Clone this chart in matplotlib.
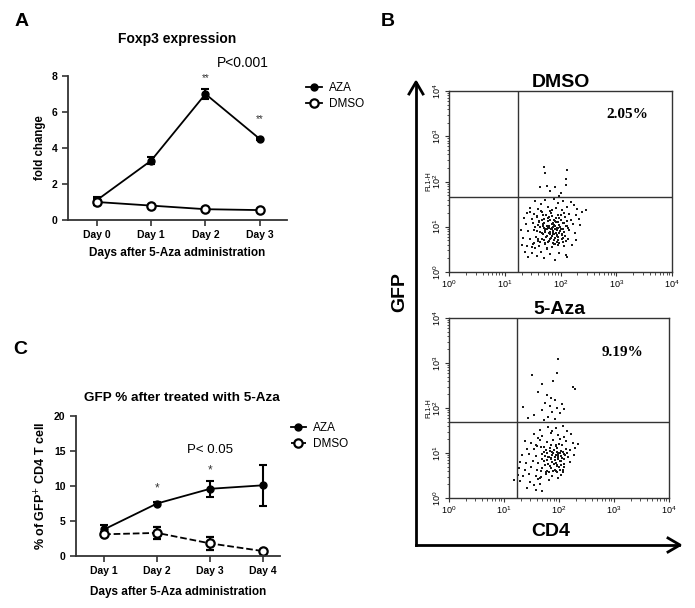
import numpy as np
import matplotlib.pyplot as plt
from matplotlib.lines import Line2D
from matplotlib.ticker import LogLocator, NullFormatter

plt.rcParams['font.family'] = ['Liberation Sans', 'DejaVu Sans']

# ---- donnees panel A (Foxp3, fold change)
jours_a = ['Day 0', 'Day 1', 'Day 2', 'Day 3']
aza_a = [1.1, 3.3, 7.0, 4.5]
aza_a_err = [0.2, 0.2, 0.3, 0.05]
dmso_a = [1.0, 0.8, 0.6, 0.55]
dmso_a_err = [0.15, 0.05, 0.05, 0.05]
etoiles_a = ['', '', '**', '**']
etoiles_a_y = [0, 0, 7.9, 5.6]

# ---- donnees panel C (% GFP+)
jours_c = ['Day 1', 'Day 2', 'Day 3', 'Day 4']
aza_c = [3.8, 7.5, 9.6, 10.1]
aza_c_err = [0.6, 0.2, 1.1, 2.9]
dmso_c = [3.1, 3.3, 1.8, 0.7]
dmso_c_err = [0.3, 0.9, 0.9, 0.2]
etoiles_c = ['', '*', '*', '']
etoiles_c_y = [0, 9.6, 12.2, 0]

# ---- panel B : evenements cytometrie (log10 CD4, log10 GFP), lus a l'oeil
dmso_cd4 = [1.70, 1.72, 2.12, 2.10, 2.09, 1.63, 1.75, 1.90, 1.81, 2.00, 1.97,
            1.55, 1.72, 1.88, 2.05, 2.18, 1.95, 1.65, 2.25,
            1.45, 1.60, 1.78, 1.92, 2.02, 2.12, 2.30, 2.45, 1.85,
            1.40, 1.52, 1.66, 1.74, 1.83, 1.95, 2.06, 2.15, 2.28, 2.38,
            1.35, 1.48, 1.58, 1.70, 1.80, 1.88, 1.98, 2.08, 2.18, 2.33, 1.62, 1.92,
            1.38, 1.50, 1.60, 1.68, 1.76, 1.84, 1.90, 1.97, 2.04, 2.12, 2.22, 2.35, 1.55, 1.80, 2.00,
            1.30, 1.42, 1.52, 1.63, 1.72, 1.79, 1.86, 1.92, 1.99, 2.07, 2.16, 2.26, 1.68, 1.88, 2.03, 1.84,
            1.33, 1.45, 1.56, 1.66, 1.74, 1.82, 1.90, 1.96, 2.05, 2.14, 2.28, 1.60, 1.78, 1.93,
            1.31, 1.40, 1.50, 1.62, 1.72, 1.84, 1.95, 2.06, 2.20, 1.55, 1.76,
            1.36, 1.48, 1.65, 1.82, 1.98, 2.10, 1.42, 1.70, 1.90, 2.12, 1.58,
            1.83, 1.87, 1.81, 1.90, 1.86, 1.94, 1.78, 1.88, 1.95, 1.75, 1.85, 1.93, 1.70,
            1.62, 1.67, 1.71, 1.77, 1.82, 1.86, 1.91, 1.96, 2.01, 2.06, 2.11,
            1.64, 1.69, 1.74, 1.79, 1.84, 1.89, 1.94, 1.99, 2.04, 2.09, 2.14,
            1.58, 1.66, 1.73, 1.81, 1.87, 1.93, 1.98, 2.03, 2.08,
            1.60, 1.70, 1.76, 1.83, 1.89, 1.95, 2.02, 2.10,
            1.52, 1.63, 1.72, 1.80, 1.86, 1.91, 1.97, 2.05,
            1.57, 1.68, 1.78, 1.85, 1.92, 2.00,
            1.48, 1.75, 1.88, 1.45, 1.65, 1.82]
dmso_gfp = [2.33, 2.18, 2.26, 2.05, 1.93, 1.88, 1.90, 1.87, 1.78, 1.74, 1.69,
            1.58, 1.60, 1.62, 1.57, 1.55, 1.52, 1.50, 1.48,
            1.42, 1.40, 1.43, 1.41, 1.38, 1.44, 1.40, 1.38, 1.36,
            1.30, 1.28, 1.32, 1.27, 1.30, 1.26, 1.31, 1.28, 1.25, 1.32,
            1.20, 1.18, 1.22, 1.17, 1.21, 1.16, 1.19, 1.22, 1.15, 1.18, 1.13, 1.11,
            1.05, 1.08, 1.03, 1.07, 1.02, 1.06, 1.01, 1.04, 1.08, 1.02, 1.06, 1.03, 0.99, 0.97, 0.96,
            0.92, 0.90, 0.93, 0.88, 0.92, 0.87, 0.91, 0.86, 0.90, 0.88, 0.92, 0.87, 0.84, 0.83, 0.82, 0.94,
            0.76, 0.74, 0.78, 0.73, 0.77, 0.72, 0.76, 0.71, 0.75, 0.73, 0.70, 0.68, 0.66, 0.67,
            0.60, 0.57, 0.62, 0.58, 0.61, 0.56, 0.60, 0.57, 0.59, 0.52, 0.50,
            0.45, 0.42, 0.44, 0.40, 0.43, 0.38, 0.33, 0.30, 0.27, 0.33, 0.36,
            0.95, 0.99, 0.89, 0.95, 0.85, 0.93, 1.00, 1.04, 0.98, 0.94, 0.80, 0.80, 0.98,
            1.10, 1.14, 1.09, 1.12, 1.15, 1.08, 1.13, 1.10, 1.14, 1.09, 1.12,
            0.99, 1.02, 0.96, 1.01, 0.98, 1.03, 0.97, 1.00, 0.95, 1.01, 0.97,
            0.90, 0.86, 0.89, 0.84, 0.88, 0.82, 0.87, 0.85, 0.80,
            0.74, 0.71, 0.79, 0.75, 0.70, 0.78, 0.72, 0.69,
            0.64, 0.66, 0.63, 0.68, 0.65, 0.62, 0.64, 0.66,
            1.24, 1.25, 1.19, 1.23, 1.20, 1.26,
            0.55, 0.53, 0.62, 1.33, 1.35, 1.34]

aza_cd4 = [1.99, 1.97, 1.51, 1.90, 1.70, 2.26, 2.30, 1.61, 1.79, 1.86, 1.92, 1.75, 1.35,
           1.83, 1.96, 2.05, 1.70, 1.88, 2.02, 1.55, 1.80, 1.93, 1.73, 2.10, 1.44,
           1.80, 1.95, 2.08, 1.65, 2.15, 1.88,
           1.55, 1.70, 1.85, 1.98, 2.10, 2.22, 1.62, 2.02,
           1.38, 1.50, 1.66, 1.78, 1.90, 2.00, 2.12, 2.25, 2.35, 1.58, 1.95,
           1.42, 1.55, 1.68, 1.76, 1.84, 1.91, 1.97, 2.04, 2.12, 2.20, 2.30, 1.88, 2.00,
           1.33, 1.46, 1.58, 1.70, 1.80, 1.87, 1.93, 1.98, 2.03, 2.09, 2.17, 2.28, 1.95, 1.99, 1.90, 2.06, 1.85,
           1.30, 1.40, 1.52, 1.62, 1.72, 1.80, 1.88, 1.95, 2.02, 2.10, 2.20, 1.92, 1.97,
           1.28, 1.38, 1.50, 1.60, 1.70, 1.78, 1.85, 1.93, 2.00, 2.08, 1.82, 1.96,
           1.25, 1.35, 1.45, 1.58, 1.68, 1.77, 1.88, 2.03, 1.62,
           1.30, 1.48, 1.55, 1.65, 1.42, 1.58, 1.70, 1.18,
           1.72, 1.78, 1.84, 1.90, 1.96, 2.02, 2.08, 2.14,
           1.75, 1.81, 1.87, 1.93, 1.99, 2.05, 2.11, 2.17,
           1.70, 1.79, 1.86, 1.92, 1.98, 2.04, 2.10,
           1.74, 1.83, 1.91, 1.97, 2.03, 2.09,
           1.68, 1.77, 1.89, 1.95, 2.01, 2.07,
           1.60, 1.73, 1.85, 1.94, 2.06,
           1.65, 1.82, 1.99]
aza_gfp = [3.10, 2.77, 2.73, 2.60, 2.53, 2.47, 2.42, 2.35, 2.29, 2.22, 2.18, 2.12, 2.03,
           2.05, 2.00, 2.08, 1.95, 1.92, 1.88, 1.85, 1.80, 1.76, 1.74, 1.98, 1.78,
           1.58, 1.55, 1.60, 1.52, 1.50, 1.48,
           1.42, 1.38, 1.44, 1.40, 1.36, 1.42, 1.33, 1.32,
           1.27, 1.22, 1.28, 1.24, 1.29, 1.21, 1.26, 1.23, 1.20, 1.18, 1.17,
           1.10, 1.08, 1.13, 1.06, 1.11, 1.07, 1.12, 1.05, 1.10, 1.07, 1.12, 1.02, 1.01,
           0.95, 0.98, 0.93, 0.97, 0.92, 0.96, 0.91, 0.97, 0.93, 0.98, 0.92, 0.96, 0.95, 0.89, 0.99, 0.88, 0.88,
           0.80, 0.77, 0.83, 0.78, 0.82, 0.76, 0.81, 0.77, 0.82, 0.76, 0.80, 0.84, 0.73,
           0.66, 0.62, 0.68, 0.63, 0.67, 0.61, 0.66, 0.62, 0.68, 0.63, 0.58, 0.57,
           0.52, 0.48, 0.54, 0.50, 0.46, 0.53, 0.49, 0.52, 0.42,
           0.38, 0.35, 0.28, 0.32, 0.22, 0.18, 0.15, 0.40,
           1.03, 1.00, 1.04, 1.01, 1.03, 0.99, 1.02, 1.00,
           0.94, 0.91, 0.95, 0.92, 0.94, 0.90, 0.95, 0.91,
           0.86, 0.84, 0.87, 0.85, 0.86, 0.83, 0.87,
           0.74, 0.71, 0.75, 0.72, 0.74, 0.70,
           0.60, 0.57, 0.61, 0.59, 0.62, 0.58,
           1.16, 1.14, 1.17, 1.15, 1.18,
           0.45, 0.41, 0.44]

fig = plt.figure(figsize=(6.95, 6.08), dpi=100)


# style type Prism pour les courbes
def style_prism(ax):
    for s in ['top', 'right']:
        ax.spines[s].set_visible(False)
    for s in ['left', 'bottom']:
        ax.spines[s].set_linewidth(1.3)
        ax.spines[s].set_color('#333333')
    ax.tick_params(width=1.2, length=4, labelsize=7.5, color='#333333')
    for lab in ax.get_xticklabels() + ax.get_yticklabels():
        lab.set_fontweight('bold')


def courbe(ax, jours, aza, aza_err, dmso, dmso_err, style_dmso):
    x = np.arange(len(jours))
    ax.errorbar(x, aza, yerr=aza_err, fmt='o-', color='black', ms=5,
                lw=1.3, capsize=3, elinewidth=1.5, capthick=1.5)
    ax.errorbar(x, dmso, yerr=dmso_err, fmt='o', ls=style_dmso, color='black',
                mfc='white', mec='black', mew=1.6, ms=6, lw=1.3,
                capsize=3, elinewidth=1.5, capthick=1.5)
    ax.set_xticks(x)
    ax.set_xticklabels(jours)
    # legende sans les barres d'erreur
    h1 = Line2D([], [], color='black', marker='o', ms=5, lw=1.3)
    h2 = Line2D([], [], color='black', marker='o', ms=6, mfc='white', mew=1.6,
                lw=1.3, ls=style_dmso)
    return [h1, h2]


# ---------------- panel A
axA = fig.add_axes([68 / 695, 1 - 220 / 608, 219 / 695, 144 / 608])
hA = courbe(axA, jours_a, aza_a, aza_a_err, dmso_a, dmso_a_err, '-')
axA.set_xlim(-0.53, 3.5)
axA.set_ylim(0, 8)
axA.set_yticks([0, 2, 4, 6, 8])
style_prism(axA)
axA.set_ylabel('fold change', fontsize=8.3, fontweight='bold', labelpad=4)
axA.set_xlabel('Days after 5-Aza administration', fontsize=8.5, fontweight='bold', labelpad=5)
axA.set_title('Foxp3 expression', fontsize=10, fontweight='bold', pad=24)
for i, e in enumerate(etoiles_a):
    if e:
        axA.text(i, etoiles_a_y[i], e, ha='center', va='center', fontsize=7, color='#333333')
fig.text(243 / 695, 1 - 63 / 608, 'P<0.001', ha='center', va='center', fontsize=10)
axA.legend(hA, ['AZA', 'DMSO'], loc='upper left', bbox_to_anchor=(1.04, 1.03), frameon=False,
           fontsize=8.5, handlelength=1.3, handletextpad=0.6, labelspacing=0.3)
fig.text(15 / 695, 1 - 22 / 608, 'A', fontsize=14, fontweight='bold', ha='left', va='center')

# ---------------- panel C
axC = fig.add_axes([76 / 695, 1 - 556 / 608, 204 / 695, 140 / 608])
hC = courbe(axC, jours_c, aza_c, aza_c_err, dmso_c, dmso_c_err, '--')
axC.set_xlim(-0.53, 3.32)
axC.set_ylim(0, 20)
axC.set_yticks([0, 5, 10, 15, 20])
style_prism(axC)
axC.set_ylabel('% of GFP$^{+}$ CD4 T cell', fontsize=9, fontweight='bold', labelpad=4)
axC.set_xlabel('Days after 5-Aza administration', fontsize=8.5, fontweight='bold', labelpad=7)
axC.set_title('GFP % after treated with 5-Aza', fontsize=9.7, fontweight='bold', pad=11, x=0.52)
for i, e in enumerate(etoiles_c):
    if e:
        axC.text(i, etoiles_c_y[i], e, ha='center', va='center', fontsize=8.5, color='#333333')
fig.text(210 / 695, 1 - 450 / 608, 'P< 0.05', ha='center', va='center', fontsize=9.5)
axC.legend(hC, ['AZA', 'DMSO'], loc='upper left', bbox_to_anchor=(1.0, 1.03), frameon=False,
           fontsize=8.5, handlelength=1.3, handletextpad=0.6, labelspacing=0.3)
fig.text(13 / 695, 1 - 349 / 608, 'C', fontsize=14, fontweight='bold', ha='left', va='center')


# ---------------- panel B : cytometrie
def facs(ax, cd4, gfp, titre, gate_y, pct, pos_pct):
    ax.scatter(10 ** np.array(cd4), 10 ** np.array(gfp), s=3.2, color='#1a1a1a',
               marker='s', linewidths=0)
    ax.set_xscale('log')
    ax.set_yscale('log')
    ax.set_xlim(1, 1e4)
    ax.set_ylim(1, 1e4)
    ax.axvline(10 ** 1.24, color='#333333', lw=1)
    ax.axhline(10 ** gate_y, color='#333333', lw=1)
    for s in ax.spines.values():
        s.set_linewidth(1)
        s.set_color('#333333')
    ax.xaxis.set_major_locator(LogLocator(base=10, numticks=10))
    ax.yaxis.set_major_locator(LogLocator(base=10, numticks=10))
    ax.xaxis.set_minor_locator(LogLocator(base=10, subs=np.arange(2, 10), numticks=10))
    ax.yaxis.set_minor_locator(LogLocator(base=10, subs=np.arange(2, 10), numticks=10))
    ax.xaxis.set_minor_formatter(NullFormatter())
    ax.yaxis.set_minor_formatter(NullFormatter())
    ax.tick_params(which='both', direction='out', labelsize=6.5, pad=1.5, color='#333333')
    ax.tick_params(which='major', length=3)
    ax.tick_params(which='minor', length=1.8)
    for lab in ax.get_yticklabels():
        lab.set_rotation(90)
        lab.set_va('center')
    ax.set_ylabel('FL1-H', fontsize=5)
    ax.yaxis.set_label_coords(-0.075, 0.5)
    ax.set_title(titre, fontsize=14, fontweight='bold', pad=1)
    ax.text(pos_pct[0], pos_pct[1], pct, transform=ax.transAxes, fontsize=11, fontweight='bold',
            family='Liberation Serif', ha='center', va='center')


axB1 = fig.add_axes([449 / 695, 1 - 272 / 608, 223 / 695, 181 / 608])
facs(axB1, dmso_cd4, dmso_gfp, 'DMSO', 1.66, '2.05%', (0.80, 0.87))
axB2 = fig.add_axes([449 / 695, 1 - 498 / 608, 220 / 695, 180 / 608])
facs(axB2, aza_cd4, aza_gfp, '5-Aza', 1.68, '9.19%', (0.79, 0.81))

# grands axes fleches GFP / CD4
fig.add_artist(Line2D([416 / 695, 416 / 695], [1 - 545 / 608, 1 - 83 / 608],
                      color='black', lw=2, transform=fig.transFigure))
fig.add_artist(Line2D([416 / 695, 679 / 695], [1 - 545 / 608, 1 - 545 / 608],
                      color='black', lw=2, transform=fig.transFigure))
fig.add_artist(Line2D([409 / 695, 416 / 695, 423 / 695],
                      [1 - 94 / 608, 1 - 82 / 608, 1 - 94 / 608],
                      color='black', lw=2, transform=fig.transFigure))
fig.add_artist(Line2D([668 / 695, 680 / 695, 668 / 695],
                      [1 - 538 / 608, 1 - 545 / 608, 1 - 552 / 608],
                      color='black', lw=2, transform=fig.transFigure))
fig.text(400 / 695, 1 - 292 / 608, 'GFP', rotation=90, fontsize=14, fontweight='bold',
         ha='center', va='center')
fig.text(551 / 695, 1 - 532 / 608, 'CD4', fontsize=14, fontweight='bold',
         ha='center', va='center')
fig.text(381 / 695, 1 - 22 / 608, 'B', fontsize=14, fontweight='bold', ha='left', va='center')

fig.savefig('out.png', dpi=100, facecolor='white')
